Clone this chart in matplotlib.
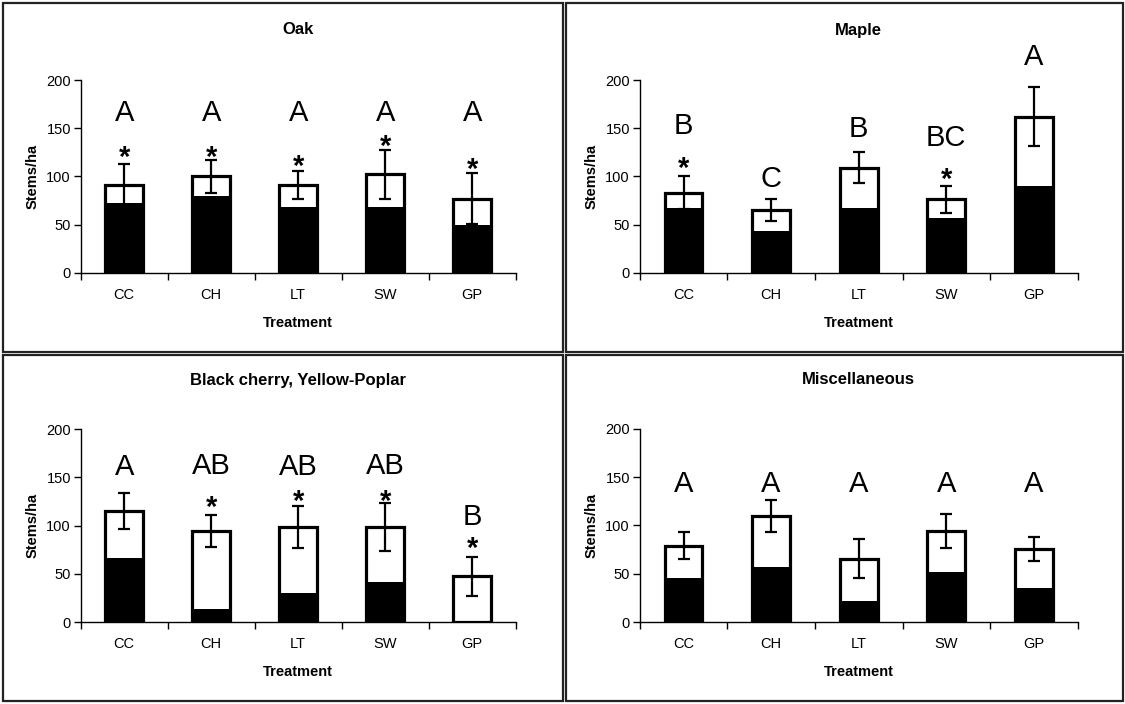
import matplotlib
matplotlib.use("Agg")
import matplotlib.pyplot as plt
from matplotlib.patches import Rectangle

plt.rcParams['font.family'] = ['Liberation Sans', 'DejaVu Sans']

treatments = ["CC", "CH", "LT", "SW", "GP"]

oak_total = [91, 100, 91, 102, 77]
oak_black = [72, 80, 68, 68, 50]
oak_err = [22, 17, 15, 25, 26]
oak_letters = ["A", "A", "A", "A", "A"]
oak_letter_y = [168, 168, 168, 168, 168]
oak_star_y = [127, 127, 117, 138, 114.5]

maple_total = [83, 65, 109, 76, 162]
maple_black = [67, 43, 67, 57, 90]
maple_err = [17, 11, 16, 14, 31]
maple_letters = ["B", "C", "B", "BC", "A"]
maple_letter_y = [155, 100, 152, 142, 226]
maple_star_y = [115, None, None, 104, None]

cherry_total = [115, 94.5, 98.5, 98.5, 47.5]
cherry_black = [66, 13, 30, 42, 0]
cherry_err = [18.5, 17, 22, 25, 20]
cherry_letters = ["A", "AB", "AB", "AB", "B"]
cherry_letter_y = [163, 164, 163, 164, 112]
cherry_star_y = [None, 126, 132, 132, 83]

misc_total = [79, 110, 65.5, 94, 75.5]
misc_black = [45.5, 56.5, 21.5, 51.5, 35]
misc_err = [14, 16.5, 20, 17.5, 12]
misc_letters = ["A", "A", "A", "A", "A"]
misc_letter_y = [145, 145, 145, 145, 145]
misc_star_y = [None, None, None, None, None]

W, H = 1125, 704
fig = plt.figure(figsize=(W / 100, H / 100), dpi=100)

# panel frames (pixel coords: x0, y0_top, x1, y1_bottom)
frames = [(3, 3, 563, 352), (566, 3, 1123, 352), (3, 355, 563, 701), (566, 355, 1123, 701)]
for (x0, y0, x1, y1) in frames:
    fig.patches.append(Rectangle((x0 / W, 1 - y1 / H), (x1 - x0) / W, (y1 - y0) / H,
                                 transform=fig.transFigure, fill=False,
                                 edgecolor='#222222', linewidth=1.6))

panels = [
    ("Oak", oak_total, oak_black, oak_err, oak_letters, oak_letter_y, oak_star_y, (80.7, 80, 515.7, 272.7)),
    ("Maple", maple_total, maple_black, maple_err, maple_letters, maple_letter_y, maple_star_y, (639.7, 80, 1077.7, 272.7)),
    ("Black cherry, Yellow-Poplar", cherry_total, cherry_black, cherry_err, cherry_letters, cherry_letter_y, cherry_star_y, (80.7, 429.3, 515.7, 622)),
    ("Miscellaneous", misc_total, misc_black, misc_err, misc_letters, misc_letter_y, misc_star_y, (639.7, 428.7, 1077.7, 622)),
]

title_y = [30, 30, 380, 379]

for i, (title, total, black, err, letters, letter_y, star_y, box) in enumerate(panels):
    x0, y0, x1, y1 = box
    ax = fig.add_axes([x0 / W, 1 - y1 / H, (x1 - x0) / W, (y1 - y0) / H])
    xs = list(range(len(treatments)))
    bw = 0.43
    ax.bar(xs, total, width=bw, color='white', edgecolor='black', linewidth=2.3, zorder=2)
    ax.bar(xs, black, width=bw, color='black', edgecolor='black', linewidth=0, zorder=3)
    ax.errorbar(xs, total, yerr=err, fmt='none', ecolor='black', elinewidth=1.6,
                capsize=4, capthick=1.6, zorder=4)
    fs_letter = 21
    for x, lab, ly in zip(xs, letters, letter_y):
        ax.annotate(lab, xy=(x, ly), xytext=(0, -0.36 * fs_letter), textcoords='offset points',
                    ha='center', va='baseline', fontsize=fs_letter, annotation_clip=False, zorder=5)
    fs_star = 21
    for x, sy in zip(xs, star_y):
        if sy is not None:
            ax.annotate('*', xy=(x, sy), xytext=(0, -0.52 * fs_star), textcoords='offset points',
                        ha='center', va='baseline', fontsize=fs_star, fontweight='bold',
                        annotation_clip=False, zorder=5)
    ax.set_xlim(-0.5, 4.5)
    ax.set_ylim(0, 200)
    ax.set_yticks([0, 50, 100, 150, 200])
    ax.set_xticks(xs)
    ax.set_xticklabels(treatments, fontsize=10.5)
    ax.set_xticks([-0.5, 0.5, 1.5, 2.5, 3.5, 4.5], minor=True)
    ax.tick_params(axis='x', which='major', length=0, pad=11)
    ax.tick_params(axis='x', which='minor', length=5, width=1, direction='out')
    ax.tick_params(axis='y', length=5, width=1, direction='out', labelsize=10.5, pad=2)
    for s in ['top', 'right']:
        ax.spines[s].set_visible(False)
    for s in ['left', 'bottom']:
        ax.spines[s].set_linewidth(1)
    ax.set_ylabel("Stems/ha", fontsize=10.5, fontweight='bold', labelpad=5)
    ax.set_xlabel("Treatment", fontsize=10.5, fontweight='bold', labelpad=10)
    fig.text((x0 + x1) / 2 / W, 1 - title_y[i] / H, title, ha='center', va='center',
             fontsize=12, fontweight='bold')

fig.savefig("out.png", dpi=100)
